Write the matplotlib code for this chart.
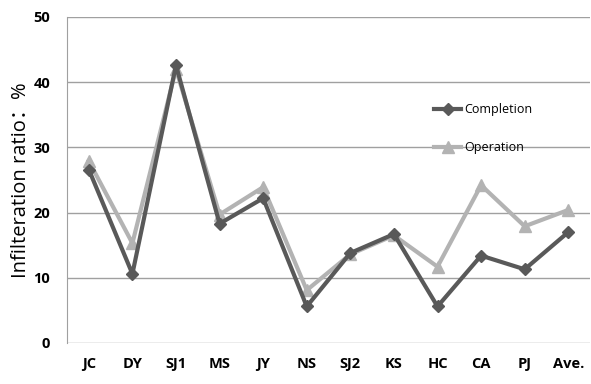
import matplotlib
matplotlib.use("Agg")
import matplotlib.pyplot as plt

categories = ["JC", "DY", "SJ1", "MS", "JY", "NS", "SJ2", "KS", "HC", "CA", "PJ", "Ave."]
completion = [26.6, 10.6, 42.6, 18.3, 22.2, 5.6, 13.8, 16.7, 5.6, 13.4, 11.3, 17.0]
operation = [27.9, 15.3, 42.0, 19.7, 23.9, 8.1, 13.6, 16.5, 11.7, 24.2, 17.9, 20.4]
yticks = [0, 10, 20, 30, 40, 50]

fig = plt.figure(figsize=(5.91, 3.84), dpi=100)
ax = fig.add_axes([0.1134, 0.1068, 0.885, 0.849])
x = list(range(len(categories)))
ax.plot(x, completion, color="#595959", lw=3, marker="D", ms=6, label="Completion", zorder=3)
ax.plot(x, operation, color="#b3b3b3", lw=3, marker="^", ms=8, label="Operation", zorder=2)
ax.set_xlim(-0.5, len(categories) - 0.5)
ax.set_ylim(0, 50)
ax.set_yticks(yticks)
ax.set_xticks(x)
ax.set_xticklabels(categories)
ax.grid(axis="y", color="#a0a0a0", lw=1)
ax.set_axisbelow(True)
for s in ["top", "right", "bottom"]:
    ax.spines[s].set_visible(False)
ax.spines["left"].set_color("#a0a0a0")
ax.tick_params(length=0, labelsize=10.5, pad=10)
for lbl in ax.get_xticklabels() + ax.get_yticklabels():
    lbl.set_fontweight("bold")
    lbl.set_fontfamily(["Open Sans", "DejaVu Sans"])
ax.tick_params(axis="y", pad=12)
ax.set_ylabel("Infilteration ratio：%", fontsize=14.5, family=["Open Sans", "Noto Sans CJK SC"], labelpad=2)
leg = ax.legend(loc="upper left", bbox_to_anchor=(0.68, 0.77), frameon=False,
                labelspacing=2.0, handlelength=2.2, handletextpad=0.2,
                prop={"family": "Open Sans", "size": 9})
fig.savefig("out.png", dpi=100)
